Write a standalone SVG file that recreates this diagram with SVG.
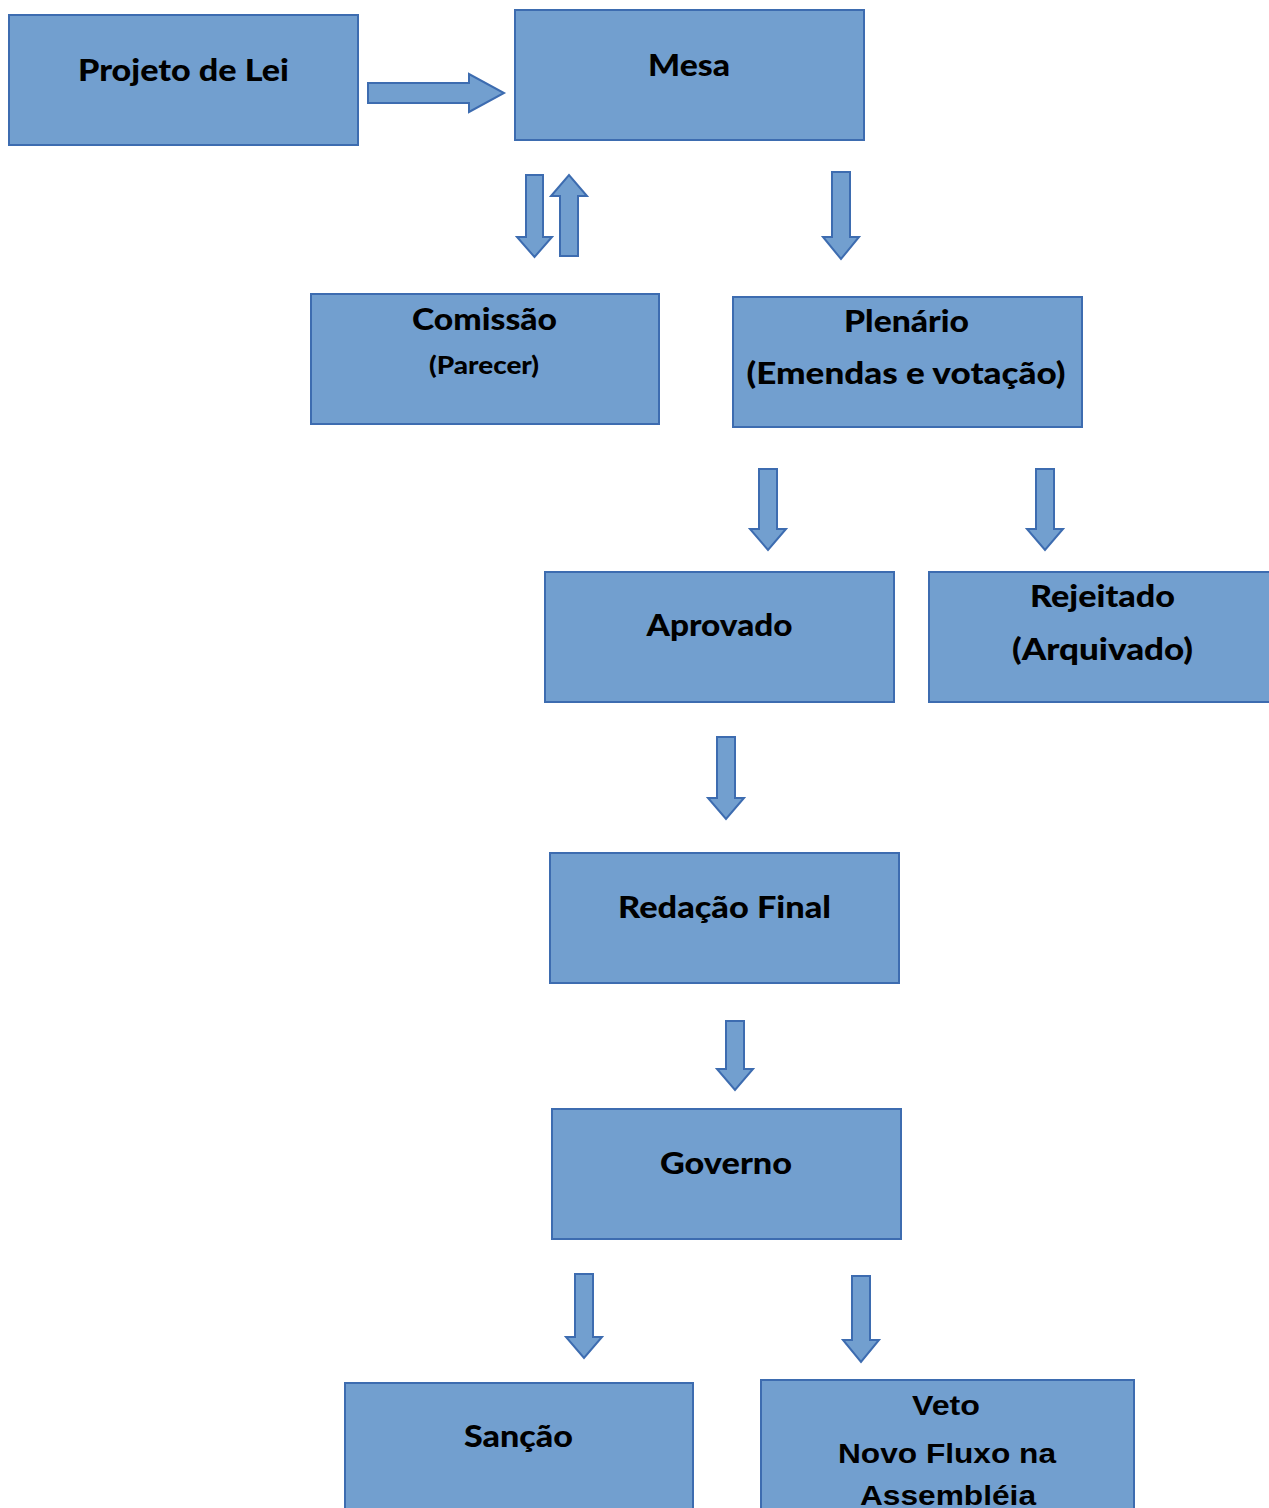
<svg xmlns="http://www.w3.org/2000/svg" width="1269" height="1508" viewBox="0 0 1269 1508">
<style>
.box{fill:#729fcf;stroke:#3d6cb0;stroke-width:2}
.arr{fill:#729fcf;stroke:#3d6cb0;stroke-width:2;stroke-linejoin:miter}
.t{font-family:Lato,"Open Sans","Liberation Sans",sans-serif;font-weight:900;font-size:30px;fill:#000;text-anchor:middle}
.s{font-size:24px}
.a{font-family:"Liberation Sans",Arial,sans-serif;font-weight:bold;font-size:28px;fill:#000;text-anchor:middle}
</style>
<rect width="1269" height="1508" fill="#fff"/>
<g id="connectors">
<path class="arr" d="M368,83 H469 V74 L504,93 L469,112 V103 H368 Z"/>
<path class="arr" d="M526,175 H543 V237 H552 L534.5,257 L517,237 H526 Z"/>
<path class="arr" d="M560,256 H578 V196 H587 L569,175 L551,196 H560 Z"/>
<path class="arr" d="M832,172 H850 V237 H859 L841,259 L823,237 H832 Z"/>
<path class="arr" d="M759,469 H777 V529 H786 L768,550 L750,529 H759 Z"/>
<path class="arr" d="M1036,469 H1054 V529 H1063 L1045,550 L1027,529 H1036 Z"/>
<path class="arr" d="M717,737 H735 V798 H744 L726,819 L708,798 H717 Z"/>
<path class="arr" d="M726,1021 H744 V1069 H753 L735,1090 L717,1069 H726 Z"/>
<path class="arr" d="M575,1274 H593 V1337 H602 L584,1358 L566,1337 H575 Z"/>
<path class="arr" d="M852,1276 H870 V1340 H879 L861,1362 L843,1340 H852 Z"/>
</g>
<g id="projeto"><rect class="box" x="9" y="15" width="349" height="130"/><text class="t" x="183.5" y="81" textLength="211" lengthAdjust="spacingAndGlyphs">Projeto de Lei</text></g>
<g id="mesa"><rect class="box" x="515" y="10" width="349" height="130"/><text class="t" x="689" y="76" textLength="82" lengthAdjust="spacingAndGlyphs">Mesa</text></g>
<g id="comissao"><rect class="box" x="311" y="294" width="348" height="130"/><text class="t" x="484.5" y="330" textLength="145" lengthAdjust="spacingAndGlyphs">Comissão</text><text class="t s" x="484" y="374" textLength="110" lengthAdjust="spacingAndGlyphs">(Parecer)</text></g>
<g id="plenario"><rect class="box" x="733" y="297" width="349" height="130"/><text class="t" x="906.5" y="332" textLength="125" lengthAdjust="spacingAndGlyphs">Plenário</text><text class="t" x="906" y="384" textLength="319" lengthAdjust="spacingAndGlyphs">(Emendas e votação)</text></g>
<g id="aprovado"><rect class="box" x="545" y="572" width="349" height="130"/><text class="t" x="719.5" y="636" textLength="146" lengthAdjust="spacingAndGlyphs">Aprovado</text></g>
<g id="rejeitado"><rect class="box" x="929" y="572" width="349" height="130"/><text class="t" x="1102.5" y="607" textLength="145" lengthAdjust="spacingAndGlyphs">Rejeitado</text><text class="t" x="1102.5" y="660" textLength="181" lengthAdjust="spacingAndGlyphs">(Arquivado)</text></g>
<g id="redacao"><rect class="box" x="550" y="853" width="349" height="130"/><text class="t" x="724.5" y="918" textLength="213" lengthAdjust="spacingAndGlyphs">Redação Final</text></g>
<g id="governo"><rect class="box" x="552" y="1109" width="349" height="130"/><text class="t" x="726" y="1174" textLength="132" lengthAdjust="spacingAndGlyphs">Governo</text></g>
<g id="sancao"><rect class="box" x="345" y="1383" width="348" height="130"/><text class="t" x="518.5" y="1447" textLength="109" lengthAdjust="spacingAndGlyphs">Sanção</text></g>
<g id="veto"><rect class="box" x="761" y="1380" width="373" height="140"/><text class="a" x="946" y="1415" textLength="68" lengthAdjust="spacingAndGlyphs">Veto</text><text class="a" x="947" y="1463" textLength="218" lengthAdjust="spacingAndGlyphs">Novo Fluxo na</text><text class="a" x="948" y="1505" textLength="176" lengthAdjust="spacingAndGlyphs">Assembléia</text></g>
</svg>
